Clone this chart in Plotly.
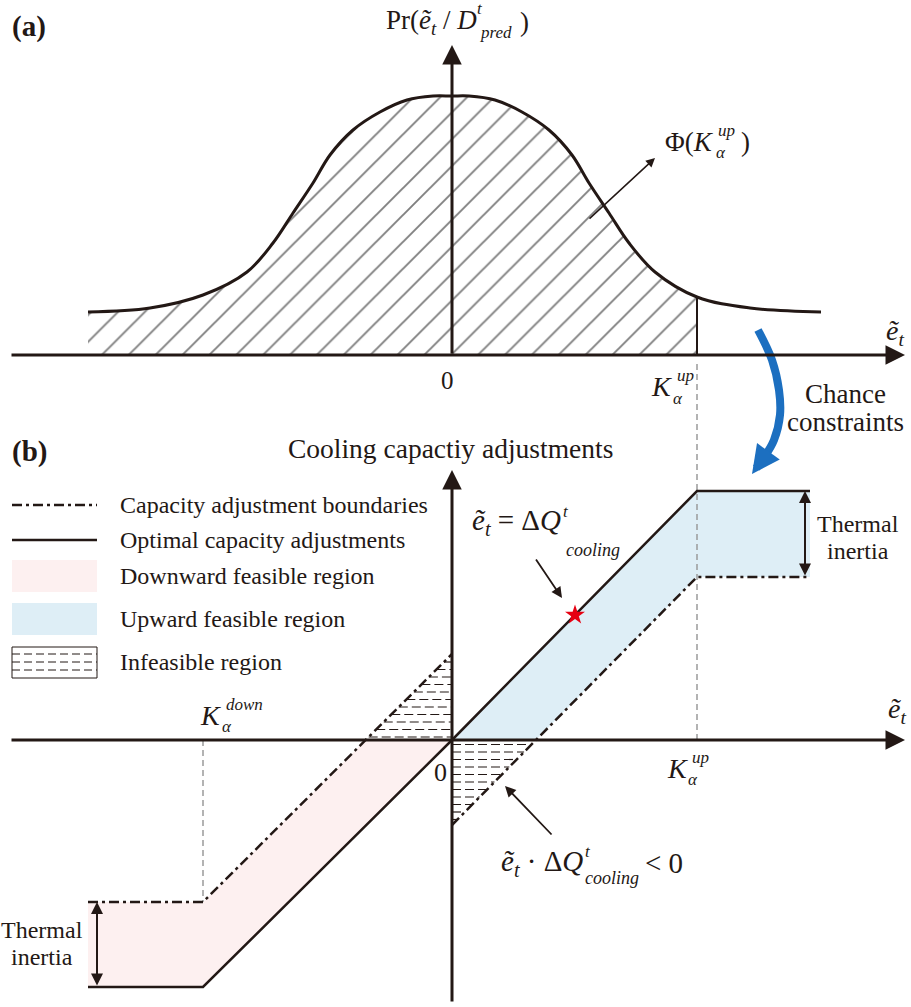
import numpy as np
import plotly.graph_objects as go

# ---------------- canvas / scale ----------------
W, H = 911, 1007
PX = 100            # pixels per data unit
OX = 452            # pixel x of the vertical axes
OYA = 355           # pixel y of panel (a) horizontal axis
OYB = 740           # pixel y of panel (b) horizontal axis
DARK = "#231815"
FONT = "Liberation Serif, Times New Roman, serif"

# ---------------- data: panel (a) ----------------
curve_x = [-3.64, -3.02, -2.49, -2.05, -1.79, -1.59, -1.39, -1.22, -0.99, -0.72, -0.45, -0.19,
           0.00, 0.17, 0.43, 0.70, 0.97, 1.20, 1.37, 1.57, 1.77, 2.03, 2.45, 2.98, 3.69]
curve_y = [0.43, 0.47, 0.60, 0.83, 1.12, 1.42, 1.72, 2.00, 2.25, 2.43, 2.55, 2.59,
           2.59, 2.59, 2.55, 2.43, 2.25, 2.00, 1.72, 1.42, 1.12, 0.83, 0.58, 0.47, 0.43]
k_up = 2.45
k_down = -2.49

# ---------------- data: panel (b) ----------------
opt_x = [-3.64, -2.49, 0.00, 2.45, 3.58]
opt_y = [-2.47, -2.47, 0.00, 2.49, 2.49]
bnd_up_x = [0.00, 2.45, 3.58]          # lower boundary of upward region
bnd_up_y = [-0.85, 1.63, 1.63]
bnd_dn_x = [-3.64, -2.49, 0.00]        # upper boundary of downward region
bnd_dn_y = [-1.62, -1.62, 0.86]
star_pt = (1.23, 1.25)
blue_x = [3.06, 3.20, 3.27, 3.28, 3.22, 3.13]
blue_y = [4.10, 3.80, 3.50, 3.25, 3.00, 2.84]
blue_tip = (3.00, 2.66)
kup_guide_top = 3.80
inertia_x_right = 3.53
inertia_x_left = -3.55

legend_labels = ["Capacity adjustment boundaries", "Optimal capacity adjustments",
                 "Downward feasible region", "Upward feasible region", "Infeasible region"]

PINK = "#fdf0f0"
BLUE = "#deeef6"
DASHDOT = "10px,4px,3px,4px"


def zero_cross(x1, y1, x2, y2):
    return x1 + (0 - y1) * (x2 - x1) / (y2 - y1)


fig = go.Figure()

# ---- panel (a) ----
n_fill = curve_x.index(k_up) + 1
fig.add_trace(go.Scatter(x=curve_x[:n_fill], y=curve_y[:n_fill], mode="lines",
                         line=dict(width=0, shape="spline", color=DARK), fill="tozeroy",
                         fillcolor="rgba(0,0,0,0)",
                         fillpattern=dict(shape="/", size=19, solidity=0.1, fgcolor="#000000"),
                         xaxis="x", yaxis="y", hoverinfo="skip"))
fig.add_trace(go.Scatter(x=curve_x, y=curve_y, mode="lines",
                         line=dict(width=3, shape="spline", color=DARK),
                         xaxis="x", yaxis="y", hoverinfo="skip"))
fig.add_trace(go.Scatter(x=[k_up, k_up], y=[0, curve_y[n_fill - 1]], mode="lines",
                         line=dict(width=2, color=DARK), xaxis="x", yaxis="y"))

# ---- panel (b) fills ----
x_up0 = zero_cross(bnd_up_x[0], bnd_up_y[0], bnd_up_x[1], bnd_up_y[1])
x_dn0 = zero_cross(bnd_dn_x[1], bnd_dn_y[1], bnd_dn_x[2], bnd_dn_y[2])

up_poly_x = opt_x[2:] + bnd_up_x[1:][::-1] + [x_up0]
up_poly_y = opt_y[2:] + bnd_up_y[1:][::-1] + [0]
fig.add_trace(go.Scatter(x=up_poly_x, y=up_poly_y, fill="toself", fillcolor=BLUE, mode="lines",
                         line=dict(width=0), xaxis="x2", yaxis="y2", hoverinfo="skip"))
dn_poly_x = opt_x[:3] + [x_dn0] + bnd_dn_x[:2][::-1]
dn_poly_y = opt_y[:3] + [0] + bnd_dn_y[:2][::-1]
fig.add_trace(go.Scatter(x=dn_poly_x, y=dn_poly_y, fill="toself", fillcolor=PINK, mode="lines",
                         line=dict(width=0), xaxis="x2", yaxis="y2", hoverinfo="skip"))

# infeasible hatch (horizontal dashes)
hx, hy = [], []
top = bnd_dn_y[-1]
step = 0.075
for yv in np.arange(step * 0.4, top, step):
    hx += [x_dn0 * (1 - yv / top), 0, None]
    hy += [yv, yv, None]
bot = bnd_up_y[0]
for yv in np.arange(-step * 0.6, bot, -step):
    hx += [0, x_up0 * (1 - yv / bot), None]
    hy += [yv, yv, None]
fig.add_trace(go.Scatter(x=hx, y=hy, mode="lines", line=dict(width=1.2, color=DARK, dash="9px,4px"),
                         xaxis="x2", yaxis="y2", hoverinfo="skip"))

# guides
fig.add_trace(go.Scatter(x=[k_up, k_up], y=[0, kup_guide_top], mode="lines",
                         line=dict(width=1.5, color="#9a9a9a", dash="6px,4px"), xaxis="x2", yaxis="y2"))
fig.add_trace(go.Scatter(x=[k_down, k_down], y=[0, bnd_dn_y[1]], mode="lines",
                         line=dict(width=1.5, color="#9a9a9a", dash="6px,4px"), xaxis="x2", yaxis="y2"))

# boundaries and optimal line
fig.add_trace(go.Scatter(x=bnd_up_x, y=bnd_up_y, mode="lines",
                         line=dict(width=2.5, color=DARK, dash=DASHDOT), xaxis="x2", yaxis="y2"))
fig.add_trace(go.Scatter(x=bnd_dn_x, y=bnd_dn_y, mode="lines",
                         line=dict(width=2.5, color=DARK, dash=DASHDOT), xaxis="x2", yaxis="y2"))
fig.add_trace(go.Scatter(x=opt_x, y=opt_y, mode="lines",
                         line=dict(width=2.5, color=DARK), xaxis="x2", yaxis="y2"))
fig.add_trace(go.Scatter(x=[star_pt[0]], y=[star_pt[1]], mode="markers",
                         marker=dict(symbol="star", size=15, color="#e60012"), xaxis="x2", yaxis="y2"))

# blue curved arrow
fig.add_trace(go.Scatter(x=blue_x, y=blue_y, mode="lines",
                         line=dict(width=8, color="#1c6fc0", shape="spline"), xaxis="x2", yaxis="y2"))

# ---------------- annotations ----------------
ann = []


def P(px, py):
    return px / W, 1 - py / H


def text(px, py, s, size, xanchor="center"):
    x, y = P(px, py)
    ann.append(dict(x=x, y=y, xref="paper", yref="paper", text=s, showarrow=False,
                    font=dict(size=size, color=DARK, family=FONT), xanchor=xanchor, yanchor="middle"))


def data_arrow(hx_, hy_, tx, ty, ax_id, width, color=DARK, size=1.0, both=False):
    ann.append(dict(x=hx_, y=hy_, ax=tx, ay=ty, xref="x" + ax_id, yref="y" + ax_id,
                    axref="x" + ax_id, ayref="y" + ax_id, text="", showarrow=True,
                    arrowhead=2, arrowsize=size, arrowwidth=width, arrowcolor=color,
                    startarrowhead=2, startarrowsize=size,
                    arrowside="end+start" if both else "end", standoff=0, startstandoff=0))


def px_arrow(hpx, hpy, tpx, tpy, width, size=1.0):
    x, y = P(hpx, hpy)
    ann.append(dict(x=x, y=y, xref="paper", yref="paper", ax=tpx - hpx, ay=tpy - hpy,
                    axref="pixel", ayref="pixel", text="", showarrow=True, arrowhead=2,
                    arrowsize=size, arrowwidth=width, arrowcolor=DARK, standoff=0))


xa_min, xa_max = (10 - OX) / PX, (905 - OX) / PX
# axes panel (a)
data_arrow(xa_max, 0, xa_min, 0, "", 3, size=1.3)
data_arrow(0, (OYA - 45) / PX, 0, 0, "", 3, size=1.3)
# axes panel (b)
data_arrow(xa_max, 0, xa_min, 0, "2", 3, size=1.3)
data_arrow(0, (OYB - 470) / PX, 0, (OYB - 1003) / PX, "2", 3, size=1.3)
# thermal inertia arrows
data_arrow(inertia_x_right, opt_y[-1], inertia_x_right, bnd_up_y[-1], "2", 2, size=1.2, both=True)
data_arrow(inertia_x_left, bnd_dn_y[0], inertia_x_left, opt_y[0], "2", 2, size=1.2, both=True)
# blue arrow head
data_arrow(blue_tip[0], blue_tip[1], blue_x[-1], blue_y[-1], "2", 8, color="#1c6fc0", size=0.7)

# pointers
px_arrow(655, 158, 588, 220, 1.5, 1.2)
px_arrow(562, 598, 535, 558, 1.8, 1.2)
px_arrow(505, 786, 553, 836, 1.8, 1.2)

# texts panel (a)
text(10, 27, "<b>(a)</b>", 29, "left")
text(479, 22, "Pr(<i>ẽ<sub>t</sub></i> / <i>D</i>", 27, "right")
text(475, 9, "<i>t</i>", 17, "left")
text(478, 32, "<i>pred</i>", 17, "left")
text(518, 22, ")", 27, "left")
text(716, 142, "Φ(<i>K</i>", 27, "right")
text(716, 131, "<i>up</i>", 17, "left")
text(714, 153, "<i>α</i>", 17, "left")
text(739, 142, ")", 27, "left")
text(447, 381, "0", 25)
text(884, 332, "<i>ẽ<sub>t</sub></i>", 28, "left")
text(674, 386, "<i>K</i>", 28, "right")
text(675, 375, "<i>up</i>", 17, "left")
text(671, 398, "<i>α</i>", 17, "left")
text(845, 394, "Chance", 27)
text(845, 422, "constraints", 27)

# texts panel (b)
text(10, 451, "<b>(b)</b>", 29, "left")
text(450, 448, "Cooling capactiy adjustments", 27.5)
text(886, 710, "<i>ẽ<sub>t</sub></i>", 28, "left")
text(440, 772, "0", 26)
text(690, 768, "<i>K</i>", 28, "right")
text(690, 757, "<i>up</i>", 17, "left")
text(686, 779, "<i>α</i>", 17, "left")
text(223, 715, "<i>K</i>", 28, "right")
text(224, 704, "<i>down</i>", 17, "left")
text(220, 726, "<i>α</i>", 17, "left")
text(858, 524, "Thermal", 24)
text(858, 551, "inertia", 24)
text(42, 930, "Thermal", 24)
text(42, 957, "inertia", 24)
text(470, 522, "<i>ẽ<sub>t</sub></i> = Δ<i>Q</i>", 29, "left")
text(561, 511, "<i>t</i>", 17, "left")
text(564, 550, "<i>cooling</i>", 18, "left")
text(499, 863, "<i>ẽ<sub>t</sub></i> · Δ<i>Q</i>", 29, "left")
text(583, 851, "<i>t</i>", 17, "left")
text(583, 878, "<i>cooling</i>", 18, "left")
text(643, 863, "&lt; 0", 29, "left")

# legend
rows = [505, 540, 576, 619, 662]
for lab, ry in zip(legend_labels, rows):
    text(118, ry, lab, 24, "left")

shapes = []


def pshape(**kw):
    kw.setdefault("xref", "paper")
    kw.setdefault("yref", "paper")
    shapes.append(kw)


x0p, _ = P(12, 0)
x1p, _ = P(97, 0)
_, y = P(0, rows[0])
pshape(type="line", x0=x0p, x1=x1p, y0=y, y1=y, line=dict(color=DARK, width=2.5, dash=DASHDOT))
_, y = P(0, rows[1])
pshape(type="line", x0=x0p, x1=x1p, y0=y, y1=y, line=dict(color=DARK, width=2.5))
for ry, col in [(rows[2], PINK), (rows[3], BLUE)]:
    _, ya = P(0, ry - 16)
    _, yb = P(0, ry + 16)
    pshape(type="rect", x0=x0p, x1=x1p, y0=ya, y1=yb, fillcolor=col, line=dict(width=0), layer="below")
_, ya = P(0, rows[4] - 15)
_, yb = P(0, rows[4] + 16)
pshape(type="rect", x0=x0p, x1=x1p, y0=ya, y1=yb, fillcolor="white", line=dict(width=1, color=DARK))
for off in (-8, 0, 8):
    _, y = P(0, rows[4] + off)
    pshape(type="line", x0=x0p, x1=x1p, y0=y, y1=y, line=dict(color=DARK, width=1, dash="8px,4px"))

ya_dom = [1 - 420 / H, 1]
yb_dom = [0, 1 - 300 / H]
axis_common = dict(visible=False, showgrid=False, zeroline=False, fixedrange=True)
fig.update_layout(
    width=W, height=H, margin=dict(l=0, r=0, t=0, b=0),
    paper_bgcolor="white", plot_bgcolor="rgba(0,0,0,0)", showlegend=False,
    xaxis=dict(range=[-OX / PX, (W - OX) / PX], domain=[0, 1], anchor="y", **axis_common),
    yaxis=dict(range=[(OYA - 420) / PX, OYA / PX], domain=ya_dom, anchor="x", **axis_common),
    xaxis2=dict(range=[-OX / PX, (W - OX) / PX], domain=[0, 1], anchor="y2", **axis_common),
    yaxis2=dict(range=[(OYB - H) / PX, (OYB - 300) / PX], domain=yb_dom, anchor="x2", **axis_common),
    annotations=ann, shapes=shapes,
)

fig.write_html("out.html", config={"displayModeBar": False},
               post_script="document.body.style.margin='0px';")
